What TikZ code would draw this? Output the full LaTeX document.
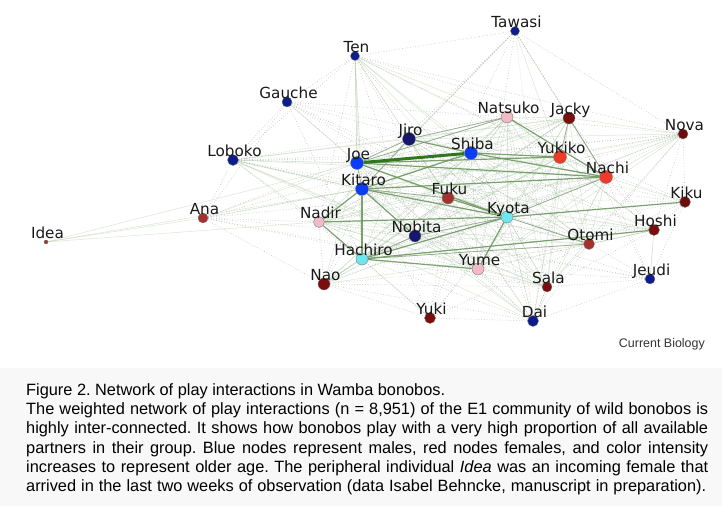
\documentclass[tikz,border=0pt]{standalone}
\usepackage{fontspec}
\newfontfamily\labfont{DejaVu Sans}
\newfontfamily\capfont{Liberation Sans}
\pgfdeclarelayer{bg}
\pgfsetlayers{bg,main}
\definecolor{navy}{RGB}{12,28,140}
\definecolor{navyd}{RGB}{22,22,110}
\definecolor{bblue}{RGB}{10,60,250}
\definecolor{cyanb}{RGB}{110,232,240}
\definecolor{pinkb}{RGB}{242,186,198}
\definecolor{redb}{RGB}{238,58,40}
\definecolor{brownr}{RGB}{165,48,48}
\definecolor{darkr}{RGB}{122,14,14}
\definecolor{lightedge}{RGB}{150,185,140}
\definecolor{dotedge}{RGB}{165,170,165}
\definecolor{medge}{RGB}{105,148,92}
\definecolor{sedge}{RGB}{48,118,30}
\definecolor{captbg}{RGB}{248,248,248}
\tikzset{
  bn/.style={circle, draw=black!55, line width=0.35pt, inner sep=0pt, minimum size=#1},
  lab/.style={font=\labfont\fontsize{15.3}{18}\selectfont, text=black!90, anchor=base, inner sep=0pt},
  lightline/.style={draw=lightedge, line width=0.5pt, opacity=0.35},
  dotline/.style={draw=dotedge, line width=0.7pt, dotted, opacity=0.6},
  midline/.style={draw=lightedge!80!black, line width=0.8pt, opacity=0.7},
  medline/.style={draw=medge, line width=1.2pt, opacity=0.85},
  strongline/.style={draw=sedge, line width=3pt},
  capt/.style={font=\capfont\fontsize{16.4}{19}\selectfont\frenchspacing, text=black, anchor=base west, inner sep=0pt},
}
\newcommand\bono[5]{\node[bn=#4, fill=#5] (#1) at (#2,#3) {};}
\newcommand\blab[3]{\node[lab] (#1-l) at (#2+1.5,#3-3.5) {#1};}
\begin{document}
\begin{tikzpicture}[x=1bp,y=-1bp]
\useasboundingbox (0,0) rectangle (722,514);
% nodes
\bono{Tawasi}{515}{31}{9}{navy}
\bono{Ten}{355}{56}{9}{navy}
\bono{Gauche}{287}{102}{10}{navy}
\bono{Loboko}{233}{160}{11}{navy}
\bono{Joe}{357}{163}{13}{bblue}
\bono{Jiro}{409}{139}{13}{navyd}
\bono{Shiba}{471}{153}{13}{bblue}
\bono{Kitaro}{362}{189}{13}{bblue}
\bono{Fuku}{448}{198}{12}{brownr}
\bono{Nadir}{319}{222}{11}{pinkb}
\bono{Kyota}{507}{217}{12}{cyanb}
\bono{Nobita}{415}{236}{12}{navyd}
\bono{Hachiro}{362}{259}{12}{cyanb}
\bono{Yume}{478}{269}{12}{pinkb}
\bono{Nao}{324}{284}{12}{darkr}
\bono{Natsuko}{507}{117}{12}{pinkb}
\bono{Jacky}{569}{118}{12}{darkr}
\bono{Nova}{683}{134}{10}{darkr!90!black}
\bono{Yukiko}{560}{157}{13}{redb}
\bono{Nachi}{606}{177}{13}{redb}
\bono{Kiku}{685}{202}{11}{darkr!90!black}
\bono{Hoshi}{654}{230}{11}{darkr}
\bono{Otomi}{589}{244}{11}{brownr}
\bono{Jeudi}{650}{279}{10}{navy}
\bono{Sala}{547}{287}{10}{darkr}
\bono{Dai}{533}{321}{11}{navy}
\bono{Yuki}{430}{318}{11}{darkr}
\bono{Ana}{203}{218}{10}{brownr}
\bono{Idea}{46}{242}{4}{brownr}
\def\core{Joe,Jiro,Shiba,Kitaro,Fuku,Nadir,Kyota,Nobita,Hachiro,Yume,Natsuko,Jacky,Yukiko,Nachi,Otomi,Sala}
\def\peri{Tawasi,Ten,Gauche,Loboko,Ana,Nao,Yuki,Dai,Jeudi,Hoshi,Kiku,Nova}
\begin{pgfonlayer}{bg}
  \fill[captbg] (0,368) rectangle (722,506);
  \foreach \a [count=\i] in \core {
    \foreach \b [count=\j] in \core {
      \ifnum\j>\i
        \pgfmathtruncatemacro\m{mod(\i+\j,5)}
        \ifnum\m=0 \draw[dotline] (\a) -- (\b); \else \draw[lightline] (\a) -- (\b); \fi
      \fi
    }
  }
  \foreach \p [count=\i] in \peri {
    \foreach \c [count=\j] in \core {
      \pgfmathtruncatemacro\m{mod(\i+2*\j,4)}
      \ifnum\m=0 \draw[lightline] (\p) -- (\c); \fi
      \ifnum\m=1 \draw[dotline] (\p) -- (\c); \fi
      \ifnum\m=2 \draw[dotline] (\p) -- (\c); \fi
    }
  }
  \foreach \a/\b in {Ten/Tawasi,Ten/Gauche,Gauche/Loboko,Loboko/Ana,Ana/Nao,Nao/Yuki,Yuki/Dai,Dai/Sala,Dai/Jeudi,Jeudi/Hoshi,Hoshi/Kiku,Kiku/Nova,Nova/Tawasi,Jeudi/Kiku,Ten/Loboko,Gauche/Ana,Nao/Dai,Hoshi/Nova,Ten/Nova}
    {\draw[dotline] (\a) -- (\b);}
  \foreach \a/\b in {Idea/Ana,Idea/Joe,Idea/Kitaro,Idea/Nadir,Tawasi/Jiro,Tawasi/Yukiko,Tawasi/Nachi,Ten/Joe,Ten/Kitaro,Gauche/Joe,Loboko/Joe,Loboko/Kitaro,Ana/Kitaro,Ana/Joe,Kiku/Nachi,Hoshi/Otomi,Jeudi/Hoshi,Dai/Kyota,Yuki/Hachiro,Nao/Hachiro}
    {\draw[lightline] (\a) -- (\b);}
  \foreach \a/\b in {Joe/Kitaro,Joe/Jiro,Jiro/Kitaro,Kitaro/Fuku,Hachiro/Nobita,Nobita/Kyota,Hachiro/Otomi,Kyota/Otomi,Joe/Natsuko,Jiro/Natsuko,Yukiko/Jacky,Nachi/Jacky,Kyota/Nachi}
    {\draw[midline] (\a) -- (\b);}
  \foreach \a/\b in {Jiro/Shiba,Shiba/Nachi,Joe/Nachi,Joe/Yukiko,Natsuko/Nachi,Shiba/Yukiko,Kitaro/Nachi,Kitaro/Shiba,Joe/Kyota,Kitaro/Kyota,Kyota/Kiku,Hachiro/Hoshi,Hachiro/Kyota,Hachiro/Yume,Kyota/Yume,Nadir/Kyota,Kitaro/Nobita,Kitaro/Hachiro,Kitaro/Nadir,Nadir/Hachiro,Fuku/Kyota}
    {\draw[medline] (\a) -- (\b);}
  \draw[strongline] (Joe) -- (Shiba);
\end{pgfonlayer}
% labels
\blab{Tawasi}{515}{31}
\blab{Ten}{355}{56}
\blab{Gauche}{287}{102}
\blab{Loboko}{233}{160}
\blab{Joe}{357}{163}
\blab{Jiro}{409}{139}
\blab{Shiba}{471}{153}
\blab{Kitaro}{362}{189}
\blab{Fuku}{448}{198}
\blab{Nadir}{319}{222}
\blab{Kyota}{507}{217}
\blab{Nobita}{415}{236}
\blab{Hachiro}{362}{259}
\blab{Yume}{478}{269}
\blab{Nao}{324}{284}
\blab{Natsuko}{507}{117}
\blab{Jacky}{569}{118}
\blab{Nova}{683}{134}
\blab{Yukiko}{560}{157}
\blab{Nachi}{606}{177}
\blab{Kiku}{685}{202}
\blab{Hoshi}{654}{230}
\blab{Otomi}{589}{244}
\blab{Jeudi}{650}{279}
\blab{Sala}{547}{287}
\blab{Dai}{533}{321}
\blab{Yuki}{430}{318}
\blab{Ana}{203}{218}
\blab{Idea}{46}{242}
\node[font=\capfont\fontsize{12.5}{14}\selectfont, text=black!80, anchor=base east, inner sep=0pt] (cb) at (705,347) {Current Biology};
% caption
\node[capt] (c1) at (26,395) {Figure 2. Network of play interactions in Wamba bonobos.};
\node[capt] (c2) at (26,414) {\makebox[682bp][s]{The weighted network of play interactions (n = 8,951) of the E1 community of wild bonobos is}};
\node[capt] (c3) at (26,433) {\makebox[682bp][s]{highly inter-connected. It shows how bonobos play with a very high proportion of all available}};
\node[capt] (c4) at (26,453) {\makebox[682bp][s]{partners in their group. Blue nodes represent males, red nodes females, and color intensity}};
\node[capt] (c5) at (26,472) {\makebox[682bp][s]{increases to represent older age. The peripheral individual \textit{Idea} was an incoming female that}};
\node[capt] (c6) at (26,491) {\makebox[680bp][s]{arrived in the last two weeks of observation (data Isabel Behncke, manuscript in preparation).}};
\end{tikzpicture}
\end{document}
